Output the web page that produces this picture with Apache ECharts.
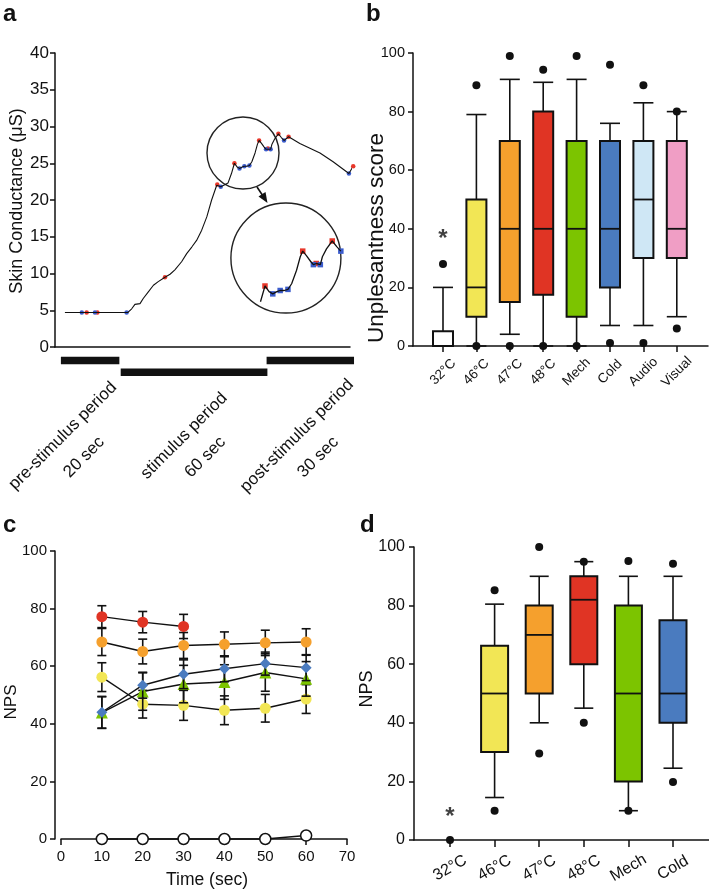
<!DOCTYPE html>
<html><head><meta charset="utf-8">
<script src="https://cdn.jsdelivr.net/npm/echarts@6/dist/echarts.min.js"></script>
<style>html,body{margin:0;padding:0;background:#fff}#c{width:709px;height:893px}</style>
</head><body><div id="c"></div>
<script>
const FONT = "'Liberation Sans', Arial, Helvetica, sans-serif";
const INK = '#111';

// ---------- Panel a : skin conductance trace ----------
const scTime  = [3.7, 27.2, 28.6, 29.8, 31.7, 32.9, 34.8, 36.7, 38.5, 41.0, 42.9, 44.7, 47.2, 49.1, 51.0, 52.8, 54.7, 56.6, 58.4, 60.3, 61.8, 63.5, 64.5, 65.8, 66.9, 67.9, 68.8, 69.8, 70.6, 71.6, 72.5, 73.4, 74.6, 75.5, 76.1, 77.0, 78.0, 78.7, 79.4, 80.4, 80.9, 81.9, 83.3, 84.4, 85.4, 87.1, 91.3, 98.8, 103.7, 109.6, 111.2, 113.0];
const scValue = [4.7, 4.7, 5.2, 5.8, 5.9, 6.6, 7.5, 8.4, 8.9, 9.5, 9.9, 10.5, 11.6, 12.7, 13.6, 14.5, 15.9, 17.7, 20.0, 22.0, 21.8, 22.1, 22.3, 23.6, 25.0, 24.5, 24.3, 24.5, 24.6, 24.6, 24.7, 25.2, 26.4, 27.6, 28.1, 27.7, 27.2, 26.9, 27.0, 26.9, 27.6, 28.3, 29.0, 28.5, 28.1, 28.6, 27.7, 26.4, 25.2, 23.6, 24.6, 23.7];
const peakTime   = [11.8, 15.8, 41.0, 60.5, 66.9, 76.1, 79.4, 83.3, 87.1, 111.2];
const peakValue  = [4.7, 4.7, 9.5, 22.1, 25.0, 28.1, 27.0, 29.0, 28.6, 24.6];
const troughTime  = [10.0, 14.9, 26.7, 61.8, 68.8, 70.6, 72.5, 78.7, 80.4, 85.4, 109.6];
const troughValue = [4.7, 4.7, 4.7, 21.8, 24.3, 24.6, 24.7, 26.9, 26.9, 28.1, 23.6];
const zoomWindow = [65.7, 85.5];           // seconds shown magnified in the inset
const zoomCircle = [70.1, 26.4];           // small circle centre (sec, µS)
const insetCircle = [86.1, 12.1];          // big circle centre (sec, µS)
const periodNames = ['pre-stimulus period', 'stimulus period', 'post-stimulus period'];
const periodDurations = ['20 sec', '60 sec', '30 sec'];
const periodStart = [2.2, 24.5, 78.9];
const periodEnd   = [24.0, 79.2, 111.5];
const periodRow   = [0, 1, 0];
const periodLabelTime = [6.9, 52.1, 94.2];

// ---------- Panel b : unpleasantness ----------
const catsB  = ['32°C', '46°C', '47°C', '48°C', 'Mech', 'Cold', 'Audio', 'Visual'];
const bMin   = [0, 0, 4, 0, 0, 7, 7, 10];
const bQ1    = [0, 10, 15, 17.5, 10, 20, 30, 30];
const bMed   = [0, 20, 40, 40, 40, 40, 50, 40];
const bQ3    = [5, 50, 70, 80, 70, 70, 70, 70];
const bMax   = [20, 79, 91, 90, 91, 76, 83, 80];
const bOutHigh = [28, 89, 99, 94.3, 99, 96, 89, 80];
const bOutLow  = [null, 0, 0, 0, 0, 1, 1, 6];
const bStar    = [38.6, null, null, null, null, null, null, null];

// ---------- Panel c : NPS time course ----------
const timeC = [10, 20, 30, 40, 50, 60];
const c32  = [0, 0, 0, 0, 0, 1.2];
const c46  = [56.2, 46.8, 46.4, 44.7, 45.4, 48.6];
const e46  = [5.0, 4.8, 5.2, 5.0, 4.8, 5.0];
const c47  = [68.4, 65.1, 67.2, 67.6, 68.1, 68.4];
const e47  = [4.7, 4.3, 4.5, 4.3, 4.4, 4.6];
const c48  = [77.2, 75.3, 73.8];
const e48  = [3.8, 3.7, 4.2];
const cMech = [43.9, 51.2, 53.8, 54.5, 57.8, 55.6];
const eMech = [5.5, 6.5, 6.5, 6.0, 6.5, 6.0];
const cCold = [44.0, 53.4, 57.2, 59.1, 60.9, 59.5];
const eCold = [5.5, 4.5, 5.0, 4.5, 4.0, 4.5];

// ---------- Panel d : NPS box plots ----------
const catsD  = ['32°C', '46°C', '47°C', '48°C', 'Mech', 'Cold'];
const dMin   = [null, 14.5, 40, 45, 10, 24.5];
const dQ1    = [null, 30, 50, 60, 20, 40];
const dMed   = [null, 50, 70, 82, 50, 50];
const dQ3    = [null, 66.3, 80, 90, 80, 75];
const dMax   = [null, 80.5, 90, 95, 90, 90];
const dOutHigh = [null, 85.2, 100, 95, 95.2, 94.3];
const dOutLow  = [0, 10, 29.5, 40, 10, 19.8];
const dStar    = [9.7, null, null, null, null, null];

const boxColors = ['#ffffff', '#f2e655', '#f5a02d', '#e03424', '#7cc400', '#4a7bbf', '#cfe7f5', '#f09ec5'];

// ---------- helpers ----------
const zip = (a, b) => a.map((v, i) => [v, b[i]]);
const AL = {show: true, onZero: false, lineStyle: {color: INK, width: 1.5}};
const TK = {show: true, inside: false, length: 5, lineStyle: {color: INK, width: 1.5}};
const LBL = (fs, m) => ({show: true, color: INK, fontSize: fs, margin: m, fontFamily: FONT});

function boxData(mn, q1, md, q3, mx) {
  const out = [];
  mn.forEach((v, i) => { if (v !== null) out.push([i, mn[i], q1[i], md[i], q3[i], mx[i]]); });
  return out;
}
function outlierData(hi, lo) {
  const out = [];
  hi.forEach((v, i) => { if (v !== null) out.push([i, v]); });
  lo.forEach((v, i) => { if (v !== null) out.push([i, v]); });
  return out;
}
function starData(s) {
  const out = [];
  s.forEach((v, i) => { if (v !== null) out.push([i, v]); });
  return out;
}
function boxRender(boxW, capW) {
  return function (params, api) {
    const i = api.value(0);
    const pMin = api.coord([i, api.value(1)]);
    const pQ1 = api.coord([i, api.value(2)]);
    const pMed = api.coord([i, api.value(3)]);
    const pQ3 = api.coord([i, api.value(4)]);
    const pMax = api.coord([i, api.value(5)]);
    const cx = pMin[0], hw = boxW / 2, hc = capW / 2;
    const ls = {stroke: INK, lineWidth: 1.6};
    return {type: 'group', children: [
      {type: 'line', shape: {x1: cx, y1: pMin[1], x2: cx, y2: pQ1[1]}, style: ls},
      {type: 'line', shape: {x1: cx, y1: pQ3[1], x2: cx, y2: pMax[1]}, style: ls},
      {type: 'line', shape: {x1: cx - hc, y1: pMin[1], x2: cx + hc, y2: pMin[1]}, style: ls},
      {type: 'line', shape: {x1: cx - hc, y1: pMax[1], x2: cx + hc, y2: pMax[1]}, style: ls},
      {type: 'rect', shape: {x: cx - hw, y: pQ3[1], width: boxW, height: pQ1[1] - pQ3[1]},
        style: {fill: boxColors[i], stroke: INK, lineWidth: 2}},
      {type: 'line', shape: {x1: cx - hw, y1: pMed[1], x2: cx + hw, y2: pMed[1]}, style: {stroke: INK, lineWidth: 1.8}}
    ]};
  };
}
function errRender(params, api) {
  const x = api.value(0), y = api.value(1), e = api.value(2);
  const t = api.coord([x, y + e]), b = api.coord([x, y - e]);
  const ls = {stroke: INK, lineWidth: 1.6};
  return {type: 'group', children: [
    {type: 'line', shape: {x1: t[0], y1: t[1], x2: b[0], y2: b[1]}, style: ls},
    {type: 'line', shape: {x1: t[0] - 4.5, y1: t[1], x2: t[0] + 4.5, y2: t[1]}, style: ls},
    {type: 'line', shape: {x1: b[0] - 4.5, y1: b[1], x2: b[0] + 4.5, y2: b[1]}, style: ls}
  ]};
}
function nps(name, vals, errs, color, symbol, size, z, hollow) {
  const out = [{
    type: 'line', name, xAxisIndex: 5, yAxisIndex: 5, z: z + 1,
    data: zip(timeC.slice(0, vals.length), vals), clip: false,
    symbol, symbolSize: size, showAllSymbol: true,
    lineStyle: {color: INK, width: 1.4},
    itemStyle: hollow ? {color: '#fff', borderColor: INK, borderWidth: 1.5, opacity: 1}
                      : {color, borderWidth: 0, opacity: 1}
  }];
  if (errs) out.unshift({
    type: 'custom', xAxisIndex: 5, yAxisIndex: 5, z: z, clip: false,
    data: timeC.slice(0, vals.length).map((t, i) => [t, vals[i], errs[i]]),
    renderItem: errRender
  });
  return out;
}

const inTrace = zip(scTime, scValue).filter(p => p[0] >= zoomWindow[0] && p[0] <= zoomWindow[1]);
const inPeaks = zip(peakTime, peakValue).filter(p => p[0] >= zoomWindow[0] && p[0] <= zoomWindow[1]);
const inTroughs = zip(troughTime, troughValue).filter(p => p[0] >= zoomWindow[0] && p[0] <= zoomWindow[1]);

const starLabel = {show: true, formatter: '*', position: 'inside', offset: [0, 6], color: INK,
  fontSize: 24, fontWeight: 'bold', fontFamily: FONT};
const dotStyle = {color: INK, opacity: 1};

const option = {
  animation: false,
  backgroundColor: '#fff',
  textStyle: {fontFamily: FONT},
  grid: [
    {left: 55, top: 53, width: 295, height: 294},
    {left: 55, top: 360.5, width: 295, height: 11.7},
    {left: 236.7, top: 207.25, width: 123, height: 135},
    {left: 413, top: 53, width: 295, height: 293},
    {left: 426.3, top: 53, width: 267.2, height: 293},
    {left: 61, top: 551, width: 286, height: 288},
    {left: 414, top: 547, width: 295, height: 293},
    {left: 427.7, top: 547, width: 267.6, height: 293}
  ],
  xAxis: [
    {gridIndex: 0, type: 'value', min: 0, max: 110, axisLine: AL, axisTick: {show: false}, axisLabel: {show: false}, splitLine: {show: false}},
    {gridIndex: 1, type: 'value', min: 0, max: 110, show: false},
    {gridIndex: 2, type: 'value', min: 60, max: 90, show: false},
    {gridIndex: 3, type: 'value', min: 0, max: 1, axisLine: AL, axisTick: {show: false}, axisLabel: {show: false}, splitLine: {show: false}},
    {gridIndex: 4, type: 'category', data: catsB, boundaryGap: true, axisLine: {show: false},
      axisTick: {show: true, alignWithLabel: true, length: 6, lineStyle: {color: INK, width: 1.5}},
      axisLabel: Object.assign(LBL(13.5, 26), {rotate: 45, align: 'center', verticalAlign: 'middle', interval: 0})},
    {gridIndex: 5, type: 'value', min: 0, max: 70, interval: 10, axisLine: AL,
      axisTick: {show: true, length: 6, lineStyle: {color: INK, width: 1.5}}, axisLabel: LBL(15, 10), splitLine: {show: false}},
    {gridIndex: 6, type: 'value', min: 0, max: 1, axisLine: AL, axisTick: {show: false}, axisLabel: {show: false}, splitLine: {show: false}},
    {gridIndex: 7, type: 'category', data: catsD, boundaryGap: true, axisLine: {show: false},
      axisTick: {show: true, alignWithLabel: true, length: 7, lineStyle: {color: INK, width: 1.5}},
      axisLabel: Object.assign(LBL(16, 28), {rotate: 30, align: 'center', verticalAlign: 'middle', interval: 0})}
  ],
  yAxis: [
    {gridIndex: 0, type: 'value', min: 0, max: 40, interval: 5, axisLine: AL, axisTick: TK, axisLabel: LBL(17, 6), splitLine: {show: false}},
    {gridIndex: 1, type: 'value', min: 0, max: 1, inverse: true, show: false},
    {gridIndex: 2, type: 'value', min: 20, max: 32, show: false},
    {gridIndex: 3, type: 'value', min: 0, max: 100, interval: 20, axisLine: AL, axisTick: TK, axisLabel: LBL(14.5, 8), splitLine: {show: false}},
    {gridIndex: 4, type: 'value', min: 0, max: 100, show: false},
    {gridIndex: 5, type: 'value', min: 0, max: 100, interval: 20, offset: 6, axisLine: AL, axisTick: TK, axisLabel: LBL(15, 8), splitLine: {show: false}},
    {gridIndex: 6, type: 'value', min: 0, max: 100, interval: 20, axisLine: AL, axisTick: TK, axisLabel: LBL(16, 9), splitLine: {show: false}},
    {gridIndex: 7, type: 'value', min: 0, max: 100, show: false}
  ],
  series: [
    // ---- a ----
    {type: 'line', xAxisIndex: 0, yAxisIndex: 0, data: zip(scTime, scValue), symbol: 'none', clip: false,
      lineStyle: {color: INK, width: 1.1}},
    {type: 'scatter', xAxisIndex: 0, yAxisIndex: 0, data: zip(peakTime, peakValue), symbolSize: 4.5, clip: false,
      itemStyle: {color: '#e8372a', opacity: 1}},
    {type: 'scatter', xAxisIndex: 0, yAxisIndex: 0, data: zip(troughTime, troughValue), symbolSize: 4.5, clip: false,
      itemStyle: {color: '#3b5ccc', opacity: 1}},
    {type: 'scatter', xAxisIndex: 0, yAxisIndex: 0, data: [zoomCircle], symbolSize: 72, clip: false, silent: true,
      itemStyle: {color: 'rgba(0,0,0,0)', borderColor: '#222', borderWidth: 1.4, opacity: 1}},
    {type: 'scatter', xAxisIndex: 0, yAxisIndex: 0, data: [insetCircle], symbolSize: 110, clip: false, silent: true,
      itemStyle: {color: 'rgba(0,0,0,0)', borderColor: '#222', borderWidth: 1.4, opacity: 1}},
    {type: 'line', xAxisIndex: 2, yAxisIndex: 2, data: inTrace, symbol: 'none', clip: false,
      lineStyle: {color: INK, width: 1.3}},
    {type: 'scatter', xAxisIndex: 2, yAxisIndex: 2, data: inPeaks, symbol: 'rect', symbolSize: 5.5, clip: false,
      itemStyle: {color: '#e8372a', opacity: 1}},
    {type: 'scatter', xAxisIndex: 2, yAxisIndex: 2, data: inTroughs, symbol: 'rect', symbolSize: 5.5, clip: false,
      itemStyle: {color: '#3b5ccc', opacity: 1}},
    {type: 'custom', xAxisIndex: 1, yAxisIndex: 1, clip: false,
      data: periodStart.map((s, i) => [s, periodEnd[i], periodRow[i], periodLabelTime[i]]),
      renderItem: function (params, api) {
        const i = params.dataIndex;
        const a = api.coord([api.value(0), api.value(2)]);
        const b = api.coord([api.value(1), api.value(2)]);
        const l = api.coord([api.value(3), 0]);
        return {type: 'group', children: [
          {type: 'rect', shape: {x: a[0], y: a[1] - 3.8, width: b[0] - a[0], height: 7.6}, style: {fill: INK}},
          {type: 'text', x: l[0], y: l[1] + 86, rotation: Math.PI / 4,
            style: {text: periodNames[i] + '\n' + periodDurations[i], align: 'center', verticalAlign: 'middle',
              textAlign: 'center', textVerticalAlign: 'middle', lineHeight: 30,
              font: '17px ' + FONT, fill: INK}}
        ]};
      }},
    // ---- b ----
    {type: 'custom', xAxisIndex: 4, yAxisIndex: 4, clip: false,
      data: boxData(bMin, bQ1, bMed, bQ3, bMax), renderItem: boxRender(20, 20)},
    {type: 'scatter', xAxisIndex: 4, yAxisIndex: 4, clip: false, data: outlierData(bOutHigh, bOutLow),
      symbolSize: 8, itemStyle: dotStyle, z: 5},
    {type: 'scatter', xAxisIndex: 4, yAxisIndex: 4, clip: false, data: starData(bStar),
      symbolSize: 0, label: starLabel},
    // ---- c ----
    ...nps('32', c32, null, '#fff', 'circle', 11, 10, true),
    ...nps('46', c46, e46, '#f2e655', 'circle', 11, 12),
    ...nps('Mech', cMech, eMech, '#7cc400', 'triangle', 12, 14),
    ...nps('Cold', cCold, eCold, '#4a7bbf', 'diamond', 11, 16),
    ...nps('47', c47, e47, '#f5a02d', 'circle', 11, 18),
    ...nps('48', c48, e48, '#e03424', 'circle', 11, 20),
    // ---- d ----
    {type: 'custom', xAxisIndex: 7, yAxisIndex: 7, clip: false,
      data: boxData(dMin, dQ1, dMed, dQ3, dMax), renderItem: boxRender(27, 19)},
    {type: 'scatter', xAxisIndex: 7, yAxisIndex: 7, clip: false, data: outlierData(dOutHigh, dOutLow),
      symbolSize: 8, itemStyle: dotStyle, z: 5},
    {type: 'scatter', xAxisIndex: 7, yAxisIndex: 7, clip: false, data: starData(dStar),
      symbolSize: 0, label: starLabel}
  ],
  graphic: [
    {type: 'text', x: 3, y: 14, style: {text: 'a', font: 'bold 24px ' + FONT, fill: INK, textAlign: 'left', textVerticalAlign: 'middle', align: 'left', verticalAlign: 'middle'}},
    {type: 'text', x: 366, y: 14, style: {text: 'b', font: 'bold 24px ' + FONT, fill: INK, textAlign: 'left', textVerticalAlign: 'middle', align: 'left', verticalAlign: 'middle'}},
    {type: 'text', x: 3, y: 525, style: {text: 'c', font: 'bold 24px ' + FONT, fill: INK, textAlign: 'left', textVerticalAlign: 'middle', align: 'left', verticalAlign: 'middle'}},
    {type: 'text', x: 360, y: 525, style: {text: 'd', font: 'bold 24px ' + FONT, fill: INK, textAlign: 'left', textVerticalAlign: 'middle', align: 'left', verticalAlign: 'middle'}},
    {type: 'text', x: 17, y: 201, rotation: Math.PI / 2, style: {text: 'Skin Conductance (μS)', font: '18px ' + FONT, fill: INK, textAlign: 'center', textVerticalAlign: 'middle', align: 'center', verticalAlign: 'middle'}},
    {type: 'text', x: 377, y: 238, rotation: Math.PI / 2, style: {text: 'Unplesantness score', font: '22.5px ' + FONT, fill: INK, textAlign: 'center', textVerticalAlign: 'middle', align: 'center', verticalAlign: 'middle'}},
    {type: 'text', x: 11, y: 702, rotation: Math.PI / 2, style: {text: 'NPS', font: '17px ' + FONT, fill: INK, textAlign: 'center', textVerticalAlign: 'middle', align: 'center', verticalAlign: 'middle'}},
    {type: 'text', x: 207, y: 880, style: {text: 'Time (sec)', font: '17.5px ' + FONT, fill: INK, textAlign: 'center', textVerticalAlign: 'middle', align: 'center', verticalAlign: 'middle'}},
    {type: 'text', x: 367, y: 689, rotation: Math.PI / 2, style: {text: 'NPS', font: '18px ' + FONT, fill: INK, textAlign: 'center', textVerticalAlign: 'middle', align: 'center', verticalAlign: 'middle'}},
    {type: 'polyline', shape: {points: [[257, 187], [263, 196]]}, style: {stroke: INK, lineWidth: 1.6}},
    {type: 'polygon', shape: {points: [[267.5, 203], [258.5, 196.5], [265.5, 192]]}, style: {fill: INK}}
  ]
};

const chart = echarts.init(document.getElementById('c'), null, {renderer: 'canvas'});
chart.setOption(option);
</script>
</body></html>
